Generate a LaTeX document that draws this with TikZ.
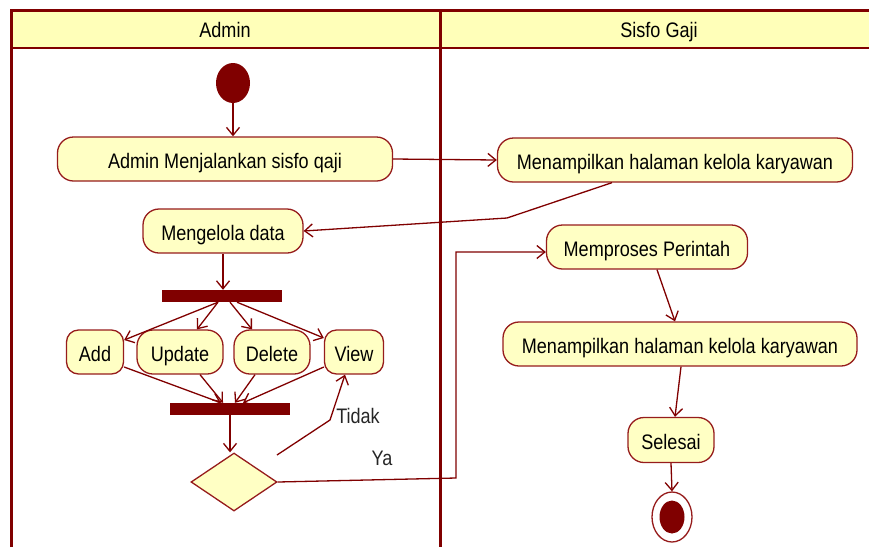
\documentclass[tikz,border=0pt]{standalone}
\usepackage{fontspec}
\setmainfont{Liberation Sans}[FakeStretch=0.86]
\usetikzlibrary{arrows.meta,shapes.geometric}
\definecolor{lane}{RGB}{128,0,0}
\definecolor{actedge}{RGB}{150,28,28}
\definecolor{actfill}{RGB}{255,255,196}
\definecolor{headfill}{RGB}{255,255,185}
\begin{document}
\begin{tikzpicture}[x=1pt,y=-1pt,
  every node/.style={font=\fontsize{21}{24}\selectfont},
  act/.style={draw=actedge, line width=1.3pt, fill=actfill, rounded corners=16pt,
              inner sep=0pt, minimum height=44pt, text height=19pt, text depth=1pt},
  bar/.style={fill=lane, draw=none, inner sep=0pt, minimum width=120pt, minimum height=12pt},
  decision/.style={diamond, draw=actedge, line width=1.3pt, fill=actfill, inner sep=0pt,
                   minimum width=86pt, minimum height=58pt},
  flow/.style={draw=lane, line width=1.3pt, -{Straight Barb[length=8pt,width=13pt]}},
  border/.style={draw=lane, line width=3pt},
  lanehead/.style={inner sep=0pt, anchor=base},
  guard/.style={inner sep=0pt, anchor=base, text=black!85}
]
\useasboundingbox (0,0) rectangle (869,547);

% swimlane frame
\fill[headfill] (11,10) rectangle (869,48);
\draw[border] (11,547) -- (11,10) -- (869,10);
\draw[lane, line width=2.5pt] (11,48) -- (869,48);
\draw[border] (440,10) -- (440,547);
\node[lanehead] (hadmin) at (225,37) {Admin};
\node[lanehead] (hsisfo) at (659,37) {Sisfo Gaji};

% Admin lane
\node[ellipse, fill=lane, inner sep=0pt, minimum width=34pt, minimum height=40pt] (start) at (233,83) {};
\node[act, minimum width=335pt] (run) at (225,159) {Admin Menjalankan sisfo qaji};
\node[act, minimum width=160pt] (manage) at (223,231) {Mengelola data};
\node[bar] (fork) at (222,296) {};
\node[act, minimum width=57pt, rounded corners=12pt] (add) at (95,352) {Add};
\node[act, minimum width=86pt] (update) at (180,352) {Update};
\node[act, minimum width=76pt] (delete) at (272,352) {Delete};
\node[act, minimum width=59pt, rounded corners=12pt] (view) at (354,352) {View};
\node[bar] (join) at (230,409) {};
\node[decision] (dec) at (234,482) {};
\coordinate (tidakstart) at (277,455);
\node[guard] (tidak) at (358,423) {Tidak};
\node[guard] (ya) at (382,465) {Ya};

% Sisfo Gaji lane
\node[act, minimum width=355pt] (show1) at (675,160) {Menampilkan halaman kelola karyawan};
\node[act, minimum width=201pt] (proc) at (647,247) {Memproses Perintah};
\node[act, minimum width=354pt] (show2) at (680,344) {Menampilkan halaman kelola karyawan};
\node[act, minimum width=86pt, minimum height=45pt] (done) at (671,440) {Selesai};
\node[ellipse, draw=actedge, line width=1.3pt, fill=white, inner sep=0pt,
      minimum width=40pt, minimum height=50pt] (finish) at (672,517) {};
\node[ellipse, fill=lane, inner sep=0pt, minimum width=25pt, minimum height=33pt] (finishdot) at (finish) {};

% control flow
\draw[flow] (start.south) -- (start.south |- run.north);
\draw[flow] (run.east) -- (show1.west);
\draw[flow] ([xshift=-63pt]show1.south) -- (507,218) -- (manage.east);
\draw[flow] (manage.south) -- (manage.south |- fork.north);
\draw[flow] ([xshift=-4pt]fork.south) -- ([yshift=12pt]add.east);
\draw[flow] ([xshift=-4pt]fork.south) -- ([xshift=17pt]update.north);
\draw[flow] ([xshift=8pt]fork.south) -- ([xshift=-20pt]delete.north);
\draw[flow] ([xshift=15pt]fork.south) -- ([yshift=14pt]view.west);
\draw[flow] ([yshift=-15pt]add.east) -- ([xshift=-9pt]join.north);
\draw[flow] ([xshift=20pt]update.south) -- ([xshift=-7pt]join.north);
\draw[flow] ([xshift=-17pt]delete.south) -- ([xshift=5pt]join.north);
\draw[flow] ([yshift=-15pt]view.west) -- ([xshift=13pt]join.north);
\draw[flow] (join.south) -- (join.south |- dec.north);
\draw[flow] (tidakstart) -- (330,420) -- ([xshift=-9pt]view.south);
\draw[flow] (dec.east) -- (456,478) |- ([yshift=-5pt]proc.west);
\draw[flow] ([xshift=10pt]proc.south) -- ([xshift=-5pt]show2.north);
\draw[flow] ([xshift=1pt]show2.south) -- ([xshift=4pt]done.north);
\draw[flow] (done.south) -- (finish.north);
\end{tikzpicture}
\end{document}
